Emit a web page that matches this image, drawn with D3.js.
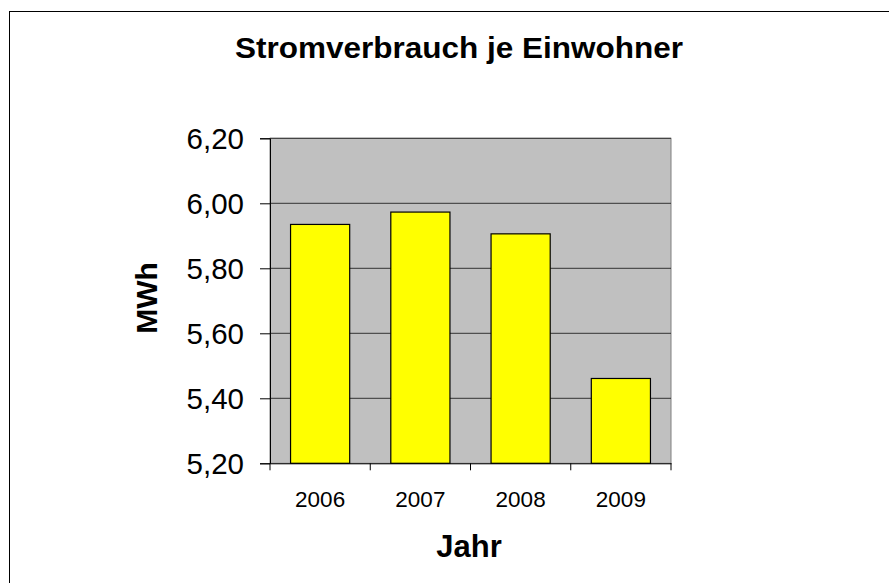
<!DOCTYPE html>
<html><head><meta charset="utf-8">
<script src="https://cdn.jsdelivr.net/npm/d3@7"></script>
<style>body{margin:0;background:#fff}svg{display:block}</style>
</head><body>
<svg id="c" width="889" height="583"></svg>
<script>
const categories = ["2006", "2007", "2008", "2009"];
const values = [5.935, 5.973, 5.906, 5.461];
const yTicks = [5.2, 5.4, 5.6, 5.8, 6.0, 6.2];
const title = "Stromverbrauch je Einwohner";
const xTitle = "Jahr";
const yTitle = "MWh";

const FONT = "Arial, 'Liberation Sans', sans-serif";
const svg = d3.select("#c");
const m = {l: 270, r: 671, t: 138.3, b: 463.3};

svg.append("rect").attr("x", 9.5).attr("y", 11.5).attr("width", 900).attr("height", 600)
  .attr("fill", "#fff").attr("stroke", "#000").attr("stroke-width", 1);

const x = d3.scaleBand().domain(categories).range([m.l, m.r]).paddingInner(0.41).paddingOuter(0.205);
const xb = d3.scaleBand().domain(categories).range([m.l, m.r]);
const y = d3.scaleLinear().domain([5.2, 6.2]).range([m.b, m.t]);

svg.append("rect").attr("x", m.l).attr("y", m.t).attr("width", m.r - m.l).attr("height", m.b - m.t)
  .attr("fill", "#C0C0C0").attr("stroke", "#808080");

svg.append("g").selectAll("line").data(yTicks.slice(1)).join("line")
  .attr("x1", m.l).attr("x2", m.r).attr("y1", d => y(d)).attr("y2", d => y(d))
  .attr("stroke", "#333").attr("stroke-width", 1);

svg.append("g").selectAll("rect").data(values).join("rect")
  .attr("x", (d, i) => x(categories[i])).attr("width", x.bandwidth())
  .attr("y", d => y(d)).attr("height", d => y(5.2) - y(d))
  .attr("fill", "#FFFF00").attr("stroke", "#000").attr("stroke-width", 1.2);

const yAxis = svg.append("g").attr("transform", `translate(${m.l},0)`)
  .call(d3.axisLeft(y).tickValues(yTicks).tickSize(10).tickPadding(16)
    .tickFormat(d => d3.format(".2f")(d).replace(".", ",")));
yAxis.select(".domain").attr("stroke", "#000");
yAxis.selectAll("line").attr("stroke", "#000");
yAxis.selectAll("text").attr("font-family", FONT)
  .attr("font-size", 29.5).attr("fill", "#000").attr("dy", "0.33em");

const xAxis = svg.append("g").attr("transform", `translate(0,${m.b})`)
  .call(d3.axisBottom(xb).tickSize(0).tickPadding(0));
xAxis.select(".domain").attr("stroke", "#000");
xAxis.selectAll("text").attr("font-family", FONT)
  .attr("font-size", 22.5).attr("fill", "#000").attr("y", 43.4).attr("dy", 0);
const bounds = [m.l].concat(categories.map(c => xb(c) + xb.bandwidth()));
xAxis.append("g").selectAll("line").data(bounds).join("line")
  .attr("x1", d => d).attr("x2", d => d).attr("y1", 0).attr("y2", 7).attr("stroke", "#000");

svg.append("text").attr("x", 459).attr("y", 57.7).attr("text-anchor", "middle")
  .attr("font-family", FONT).attr("font-weight", "bold")
  .attr("font-size", 29).attr("textLength", 448).attr("lengthAdjust", "spacingAndGlyphs").text(title);
svg.append("text").attr("x", 469).attr("y", 557.3).attr("text-anchor", "middle")
  .attr("font-family", FONT).attr("font-weight", "bold")
  .attr("font-size", 31).text(xTitle);
svg.append("text").attr("transform", "translate(157,298) rotate(-90)").attr("text-anchor", "middle")
  .attr("font-family", FONT).attr("font-weight", "bold")
  .attr("font-size", 30).text(yTitle);
</script>
</body></html>
